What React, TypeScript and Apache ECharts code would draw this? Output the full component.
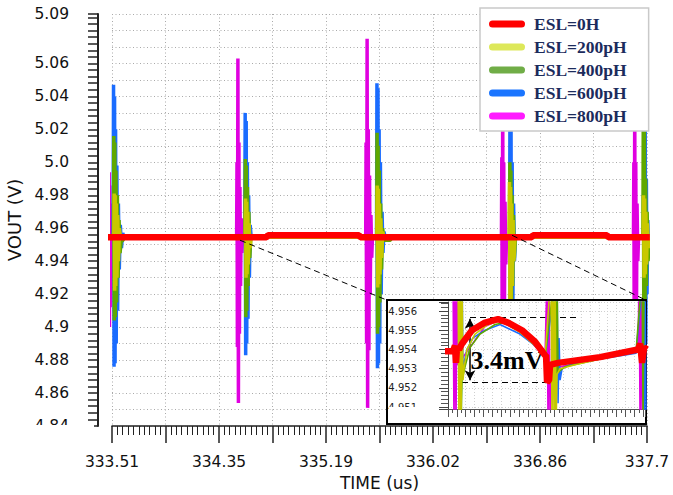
import { useEffect, useRef } from 'react';
import * as echarts from 'echarts';

// ---------- axis constants ----------
const X0 = 333.51; // first x tick (us)
const X_STEP = 0.419; // grid division (us)
const X_SPAN = 4.19; // 333.51 .. 337.70
const Y_LABELS = [4.84, 4.86, 4.88, 4.9, 4.92, 4.94, 4.96, 4.98, 5.0, 5.02, 5.04, 5.06, 5.09];
const INSET_Y_LABELS = [4.951, 4.952, 4.953, 4.954, 4.955, 4.956];
const INSET_Y_SPLITS = [4.951, 4.9515, 4.952, 4.9525, 4.953, 4.9535, 4.954, 4.9545, 4.955, 4.9555, 4.956];

const SERIES_NAMES = ['ESL=0H', 'ESL=200pH', 'ESL=400pH', 'ESL=600pH', 'ESL=800pH'];
const PLOT_COLORS = ['#ff0000', '#c8c800', '#5fa800', '#1a6cff', '#e000e0'];
const LEGEND_COLORS = ['#ff0000', '#dde85a', '#70ad47', '#1a75ff', '#ff1aff'];

// ---------- main chart data: [time (us), VOUT (V)] ----------
const main0H = [
  [333.470, 4.9545], [334.720, 4.9545], [334.732, 4.9557], [335.445, 4.9557], [335.455, 4.9545],
  [336.797, 4.9545], [336.807, 4.9557], [337.387, 4.9557], [337.397, 4.9545], [337.722, 4.9545],
];
const main200 = [
  [333.470, 4.9545], [333.524, 4.9545], [333.527, 4.981], [333.531, 4.922], [333.535, 4.980], [333.539, 4.925], [333.544, 4.975], [333.549, 4.930], [333.555, 4.968], [333.561, 4.940], [333.568, 4.960], [333.576, 4.9545],
  [334.553, 4.9545], [334.556, 4.978], [334.560, 4.930], [334.564, 4.976], [334.568, 4.932], [334.573, 4.970], [334.578, 4.938], [334.584, 4.963], [334.591, 4.948], [334.599, 4.9545],
  [335.584, 4.9545], [335.587, 4.986], [335.591, 4.924], [335.595, 4.984], [335.599, 4.926], [335.604, 4.975], [335.609, 4.932], [335.615, 4.966], [335.622, 4.942], [335.630, 4.958], [335.640, 4.9545],
  [336.620, 4.9545], [336.623, 4.988], [336.627, 4.910], [336.631, 4.985], [336.635, 4.915], [336.640, 4.975], [336.645, 4.925], [336.651, 4.965], [336.658, 4.940], [336.666, 4.9545],
  [337.670, 4.9545], [337.673, 4.980], [337.677, 4.930], [337.681, 4.978], [337.686, 4.932], [337.691, 4.970], [337.697, 4.938], [337.703, 4.963], [337.710, 4.948], [337.720, 4.9545],
];
const main400 = [
  [333.470, 4.9545], [333.521, 4.9545], [333.524, 5.016], [333.528, 4.904], [333.532, 5.012], [333.536, 4.906], [333.541, 4.995], [333.546, 4.915], [333.552, 4.980], [333.558, 4.930], [333.565, 4.965], [333.573, 4.945], [333.582, 4.952], [333.595, 4.9527], [333.610, 4.9545],
  [334.551, 4.9545], [334.554, 5.002], [334.558, 4.906], [334.562, 4.998], [334.566, 4.910], [334.571, 4.985], [334.576, 4.925], [334.582, 4.970], [334.589, 4.942], [334.597, 4.9545],
  [335.583, 4.9545], [335.586, 5.018], [335.590, 4.896], [335.594, 5.010], [335.598, 4.900], [335.603, 4.995], [335.608, 4.915], [335.614, 4.975], [335.621, 4.935], [335.629, 4.960], [335.640, 4.9527], [335.690, 4.9527], [335.700, 4.9545],
  [336.623, 4.9545], [336.626, 5.000], [336.630, 4.905], [336.634, 4.995], [336.638, 4.910], [336.643, 4.980], [336.648, 4.925], [336.654, 4.968], [336.661, 4.942], [336.669, 4.9545],
  [337.668, 4.9545], [337.671, 5.030], [337.675, 4.905], [337.679, 5.020], [337.684, 4.910], [337.689, 4.990], [337.695, 4.925], [337.701, 4.970], [337.708, 4.940], [337.720, 4.9545],
];
const main600 = [
  [333.470, 4.9545], [333.519, 4.9545], [333.522, 5.047], [333.526, 4.876], [333.530, 5.040], [333.534, 4.878], [333.538, 5.020], [333.543, 4.890], [333.548, 4.998], [333.554, 4.910], [333.560, 4.975], [333.567, 4.935], [333.575, 4.962], [333.584, 4.948], [333.594, 4.957], [333.605, 4.9545],
  [334.550, 4.9545], [334.553, 5.030], [334.557, 4.883], [334.561, 5.025], [334.565, 4.890], [334.570, 5.000], [334.575, 4.905], [334.580, 4.980], [334.586, 4.930], [334.592, 4.962], [334.600, 4.9545],
  [335.582, 4.9545], [335.585, 5.048], [335.589, 4.875], [335.593, 5.045], [335.597, 4.878], [335.602, 5.020], [335.607, 4.890], [335.612, 5.000], [335.618, 4.920], [335.625, 4.970], [335.632, 4.945], [335.640, 4.958], [335.650, 4.9545],
  [336.624, 4.9545], [336.627, 5.040], [336.631, 4.875], [336.635, 5.030], [336.639, 4.880], [336.644, 5.000], [336.649, 4.910], [336.655, 4.975], [336.662, 4.940], [336.670, 4.9545],
  [337.674, 4.9545], [337.677, 5.035], [337.681, 4.875], [337.686, 5.020], [337.690, 4.890], [337.695, 4.990], [337.700, 4.920], [337.706, 4.965], [337.712, 4.945], [337.720, 4.9545],
];
const main800 = [
  [333.470, 4.9545],
  [333.486, 4.9545], [333.488, 4.994], [333.490, 4.900], [333.493, 4.986], [333.496, 4.912], [333.499, 4.975], [333.503, 4.930], [333.507, 4.965], [333.511, 4.944], [333.516, 4.9545],
  [334.486, 4.9545], [334.489, 5.000], [334.492, 4.888], [334.496, 5.063], [334.500, 4.854], [334.504, 5.012], [334.508, 4.896], [334.512, 4.985], [334.517, 4.925], [334.522, 4.966], [334.527, 4.945], [334.532, 4.9545],
  [335.497, 4.9545], [335.500, 5.012], [335.504, 4.890], [335.508, 5.075], [335.512, 4.851], [335.517, 5.020], [335.522, 4.886], [335.527, 4.992], [335.532, 4.920], [335.538, 4.968], [335.544, 4.942], [335.550, 4.9545],
  [336.560, 4.9545], [336.563, 5.003], [336.566, 4.890], [336.570, 5.045], [336.574, 4.862], [336.578, 5.000], [336.583, 4.905], [336.588, 4.976], [336.594, 4.938], [336.600, 4.9545],
  [337.594, 4.9545], [337.597, 5.000], [337.600, 4.886], [337.604, 5.040], [337.608, 4.860], [337.612, 5.000], [337.617, 4.902], [337.622, 4.975], [337.628, 4.940], [337.634, 4.9545],
  [337.720, 4.9545],
];

// ---------- inset (zoomed) data ----------
const INSET_T_MIN = 334.41;
const INSET_T_MAX = 336.63;
const INSET_V_MIN = 4.9509;
const INSET_V_MAX = 4.95647;

const inset0H = [
  [334.3762, 4.9539], [334.4664, 4.9539], [334.4889, 4.9542], [334.5002, 4.9533], [334.5115, 4.9541], [334.5340, 4.9540],
  [334.5678, 4.9543], [334.6806, 4.9550], [334.8271, 4.9554], [334.9737, 4.95558], [335.0865, 4.9554], [335.2443, 4.9550],
  [335.3908, 4.9544], [335.5036, 4.9537], [335.5148, 4.9537], [335.5261, 4.9523], [335.5487, 4.9524], [335.5600, 4.9532],
  [335.6501, 4.9533], [336.1237, 4.9536], [336.5521, 4.9540], [336.5747, 4.9543], [336.5972, 4.9533], [336.6198, 4.9541], [336.6536, 4.9540],
];
const inset200 = [
  [334.5227, 4.958], [334.5340, 4.950], [334.5453, 4.958], [334.5566, 4.950], [334.5678, 4.958], [334.5791, 4.9524],
  [334.5904, 4.9530], [334.6242, 4.9540], [334.7144, 4.9548], [334.8610, 4.9553], [334.9963, 4.9555], [335.2217, 4.9549],
  [335.3908, 4.9542], [335.5036, 4.9536], [335.5712, 4.958], [335.5825, 4.950], [335.5938, 4.958], [335.6051, 4.950],
  [335.6163, 4.958], [335.6276, 4.950], [335.6389, 4.9527], [335.6727, 4.9530], [335.8418, 4.9532], [336.1237, 4.9535], [336.5296, 4.9539],
];
const inset400 = [
  [334.5453, 4.958], [334.5566, 4.950], [334.5678, 4.9524], [334.6017, 4.9531], [334.6580, 4.9541], [334.7708, 4.9548],
  [334.9399, 4.9553], [335.0526, 4.9554], [335.2217, 4.9549], [335.3908, 4.9543], [335.5036, 4.9536], [335.6163, 4.958],
  [335.6276, 4.950], [335.6389, 4.958], [335.6501, 4.9528], [335.7291, 4.9531], [336.1237, 4.9535], [336.5296, 4.9539],
  [336.5972, 4.958], [336.6085, 4.950], [336.6198, 4.958],
];
const inset600 = [
  [334.5678, 4.958], [334.5791, 4.9527], [334.5904, 4.9533], [334.6242, 4.9540], [334.6919, 4.9546], [334.8271, 4.9550],
  [334.9963, 4.9553], [335.2217, 4.9548], [335.3908, 4.9542], [335.5036, 4.9536], [335.6389, 4.958], [335.6501, 4.9512],
  [335.6614, 4.9546], [335.6727, 4.9524], [335.6953, 4.9530], [335.7855, 4.9532], [336.1237, 4.9535], [336.5296, 4.9538],
  [336.6085, 4.958], [336.6198, 4.950], [336.6311, 4.958], [336.6423, 4.950],
];
const inset800 = [
  [334.4664, 4.958], [334.4776, 4.950], [334.4889, 4.958], [334.5002, 4.950], [334.5115, 4.958], [334.5227, 4.9532],
  [334.6242, 4.9539], [334.8271, 4.9552], [334.9737, 4.9555], [335.2443, 4.9549], [335.5036, 4.9536], [335.5261, 4.958],
  [335.5374, 4.950], [335.5487, 4.958], [335.5600, 4.950], [335.5712, 4.9530], [336.1237, 4.9535], [336.5521, 4.9539],
  [336.5634, 4.958], [336.5747, 4.950], [336.5860, 4.958], [336.5972, 4.950], [336.6085, 4.958],
];

// annotation: ripple 3.4mV (peak 4.9557, trough 4.9523)
const RIPPLE_TOP = 4.9557;
const RIPPLE_BOTTOM = 4.9523;
const RIPPLE_TEXT = '3.4mV';

const ox = (t: number) => +(t - X0).toFixed(5);
const toXY = (pts: number[][]) => pts.map(([t, v]) => [ox(t), v]);

const FONT = '"DejaVu Sans", sans-serif';
const SERIF = '"Liberation Serif", "Times New Roman", serif';
const dotted = (color: string) => ({ show: true, lineStyle: { color, width: 1, type: [1, 2.5] as any } });

const MAIN_GRID = { left: 112, top: 14, width: 535, height: 412, outerBoundsMode: 'none', containLabel: false };
const INSET_GRID = { left: 448, top: 302, width: 197, height: 107, outerBoundsMode: 'none', containLabel: false };

function buildOption(): any {
  const mainSets = [main0H, main200, main400, main600, main800];
  const insetSets = [inset0H, inset200, inset400, inset600, inset800];
  const order = [4, 3, 2, 1, 0]; // red drawn last (on top)

  const series: any[] = [];
  order.forEach((i) => {
    const s: any = {
      type: 'line', name: SERIES_NAMES[i], xAxisIndex: 0, yAxisIndex: 0,
      data: toXY(mainSets[i]), symbol: 'none', showSymbol: false, clip: false, silent: true,
      lineStyle: { color: PLOT_COLORS[i], width: i === 0 ? 6.5 : 3.5 }, itemStyle: { color: PLOT_COLORS[i] },
      emphasis: { disabled: true }, z: 2,
    };
    if (i === 0) {
      s.markLine = {
        silent: true, symbol: ['none', 'none'], label: { show: false },
        lineStyle: { color: '#000', width: 1, type: [6, 4] },
        data: [
          [{ coord: [ox(334.5125), 4.95273] }, { coord: [ox(335.664), 4.91636] }],
          [{ coord: [ox(336.6428), 4.95576] }, { coord: [ox(337.692), 4.91636] }],
        ],
      };
    }
    series.push(s);
  });
  order.forEach((i) => {
    series.push({
      type: 'line', name: SERIES_NAMES[i], xAxisIndex: 1, yAxisIndex: 1,
      data: toXY(insetSets[i]), symbol: 'none', showSymbol: false, clip: true, silent: true,
      lineStyle: { color: PLOT_COLORS[i], width: i === 0 ? 6.5 : 1.6 }, itemStyle: { color: PLOT_COLORS[i] },
      emphasis: { disabled: true }, z: 5,
    });
  });
  const xMid = ox(335.075);
  series.push({
    type: 'line', name: 'dash', xAxisIndex: 1, yAxisIndex: 1, data: [[xMid, 4.954]], symbol: 'none',
    lineStyle: { opacity: 0 }, silent: true, z: 6,
    markLine: {
      silent: true, symbol: ['none', 'none'], label: { show: false },
      lineStyle: { color: '#000', width: 1, type: [6, 4] },
      data: [
        [{ coord: [ox(334.658), RIPPLE_TOP] }, { coord: [ox(335.8982), RIPPLE_TOP] }],
        [{ coord: [ox(334.5678), RIPPLE_BOTTOM] }, { coord: [ox(335.6501), RIPPLE_BOTTOM] }],
      ],
    },
  });
  series.push({
    type: 'line', name: 'arrow', xAxisIndex: 1, yAxisIndex: 1, data: [[xMid, 4.954]], symbol: 'none',
    lineStyle: { opacity: 0 }, silent: true, z: 6,
    markLine: {
      silent: true, symbol: ['arrow', 'arrow'], symbolSize: [8, 10], label: { show: false },
      lineStyle: { color: '#000', width: 1.5, type: 'solid' },
      itemStyle: { color: '#000' },
      data: [[{ coord: [ox(334.658), RIPPLE_TOP - 0.0001] }, { coord: [ox(334.658), RIPPLE_BOTTOM + 0.0001] }]],
    },
  });
  series.push({
    type: 'line', name: 'note', xAxisIndex: 1, yAxisIndex: 1, data: [[xMid, 4.954]], symbol: 'none',
    lineStyle: { opacity: 0 }, silent: true, z: 7,
    markPoint: {
      silent: true, symbol: 'circle', symbolSize: 1, itemStyle: { color: 'rgba(0,0,0,0)' },
      label: { show: true, position: 'inside', formatter: RIPPLE_TEXT, fontFamily: SERIF, fontWeight: 'bold', fontSize: 26, color: '#000' },
      data: [{ coord: [ox(335.075), 4.95345] }],
    },
  });
  // empty carrier so that the tick-only grid is laid out
  series.push({ type: 'line', name: 'tk0', xAxisIndex: 2, yAxisIndex: 2, data: [], silent: true });

  const yFmt = (v: number) => { const s = v.toFixed(2); return s.endsWith('0') ? s.slice(0, -1) : s; };
  const xFmt = (v: number) => {
    const k = Math.round(v / X_STEP);
    if (k % 2 !== 0) return '';
    const s = (X0 + v).toFixed(2);
    return s.endsWith('0') ? s.slice(0, -1) : s;
  };

  return {
    animation: false,
    backgroundColor: '#fff',
    grid: [
      { ...MAIN_GRID, show: false },
      { ...INSET_GRID, show: false },
      { ...MAIN_GRID, show: false },
    ],
    legend: {
      orient: 'vertical', left: 480, top: 8, selectedMode: false,
      backgroundColor: '#fff', borderColor: '#c9c9c9', borderWidth: 1.5,
      padding: [7, 22, 6, 9], itemGap: 5, itemWidth: 36, itemHeight: 7,
      icon: 'path://M3.5,0 L32.5,0 A3.5,3.5 0 0 1 32.5,7 L3.5,7 A3.5,3.5 0 0 1 3.5,0 Z',
      itemStyle: { borderWidth: 0 },
      textStyle: { fontFamily: SERIF, fontWeight: 'bold', fontSize: 17.5, color: '#1c2b5c', lineHeight: 18, padding: [0, 0, 0, 4] },
      data: SERIES_NAMES.map((name, i) => ({ name, itemStyle: { color: LEGEND_COLORS[i] } })),
    },
    xAxis: [
      {
        gridIndex: 0, type: 'value', position: 'bottom', min: 0, max: X_SPAN, interval: X_STEP,
        axisLine: { show: true, onZero: false, lineStyle: { color: '#222', width: 1.5 } },
        axisTick: { show: true, length: 17, lineStyle: { color: '#222', width: 1.5 } },
        minorTick: { show: true, splitNumber: 10, length: 9, lineStyle: { color: '#222', width: 1 } },
        axisLabel: { formatter: xFmt, fontFamily: FONT, fontSize: 15.5, color: '#111', margin: 28 },
        splitLine: dotted('#aaaaaa'),
        name: 'TIME (us)', nameLocation: 'middle', nameGap: 47,
        nameTextStyle: { fontFamily: FONT, fontSize: 17, color: '#111' },
      },
      {
        gridIndex: 1, type: 'value', position: 'bottom', min: ox(INSET_T_MIN), max: ox(INSET_T_MAX), interval: 0.1,
        axisLine: { show: true, onZero: false, lineStyle: { color: '#555', width: 1 } },
        axisTick: { show: true, length: 8, lineStyle: { color: '#555', width: 1 } },
        minorTick: { show: true, splitNumber: 2, length: 4, lineStyle: { color: '#555', width: 1 } },
        axisLabel: { show: false },
        splitLine: { show: true, lineStyle: { color: '#cfcfcf', width: 1, type: [1, 2] } },
        z: 4,
      },
      { gridIndex: 2, type: 'value', min: 0, max: 1, show: false },
    ],
    yAxis: [
      {
        gridIndex: 0, type: 'value', position: 'left', min: 4.84, max: 5.09, interval: 0.01, offset: 14,
        axisLine: { show: true, onZero: false, lineStyle: { color: '#222', width: 2 } },
        axisTick: { show: false },
        axisLabel: { customValues: Y_LABELS, formatter: yFmt, fontFamily: FONT, fontSize: 15.5, color: '#111', margin: 29 },
        splitLine: dotted('#aaaaaa'),
        name: 'VOUT (V)', nameLocation: 'middle', nameGap: 66,
        nameTextStyle: { fontFamily: FONT, fontSize: 18, color: '#111' },
      },
      {
        gridIndex: 1, type: 'value', position: 'left', min: INSET_V_MIN, max: INSET_V_MAX,
        axisLine: { show: true, onZero: false, lineStyle: { color: '#444', width: 1 } },
        axisTick: { show: true, inside: false, length: 9, lineStyle: { color: '#444', width: 1 } },
        minorTick: { show: true, splitNumber: 5, length: 7, lineStyle: { color: '#555', width: 1 } },
        axisLabel: { customValues: INSET_Y_LABELS, formatter: (v: number) => v.toFixed(3), fontFamily: FONT, fontSize: 10, color: '#222', margin: 31 },
        splitLine: { show: true, customValues: INSET_Y_SPLITS, lineStyle: { color: '#cfcfcf', width: 1, type: [1, 2] } },
        z: 4,
      },
      {
        gridIndex: 2, type: 'value', position: 'left', min: 4.84, max: 5.09, interval: 0.004, offset: 14,
        axisLine: { show: false, onZero: false },
        axisTick: { show: true, length: 10, lineStyle: { color: '#222', width: 1.5 } },
        axisLabel: { show: false }, splitLine: { show: false },
      },
    ],
    graphic: [
      { type: 'rect', z: 3, silent: true, shape: { x: 387, y: 300, width: 259, height: 124 }, style: { fill: '#fff', stroke: '#000', lineWidth: 2 } },
      { type: 'rect', z: 10, silent: true, shape: { x: 20, y: 425, width: 74, height: 18 }, style: { fill: '#fff' } },
      { type: 'rect', z: 10, silent: true, shape: { x: 389, y: 407, width: 42, height: 14 }, style: { fill: '#fff' } },
    ],
    series,
  };
}

export default function App() {
  const ref = useRef<HTMLDivElement>(null);
  useEffect(() => {
    if (!ref.current) return;
    const chart = echarts.init(ref.current, null, { renderer: 'svg' });
    chart.setOption(buildOption());
    return () => chart.dispose();
  }, []);
  return <div ref={ref} style={{ position: 'absolute', left: 0, top: 0, width: 673, height: 495 }} />;
}
